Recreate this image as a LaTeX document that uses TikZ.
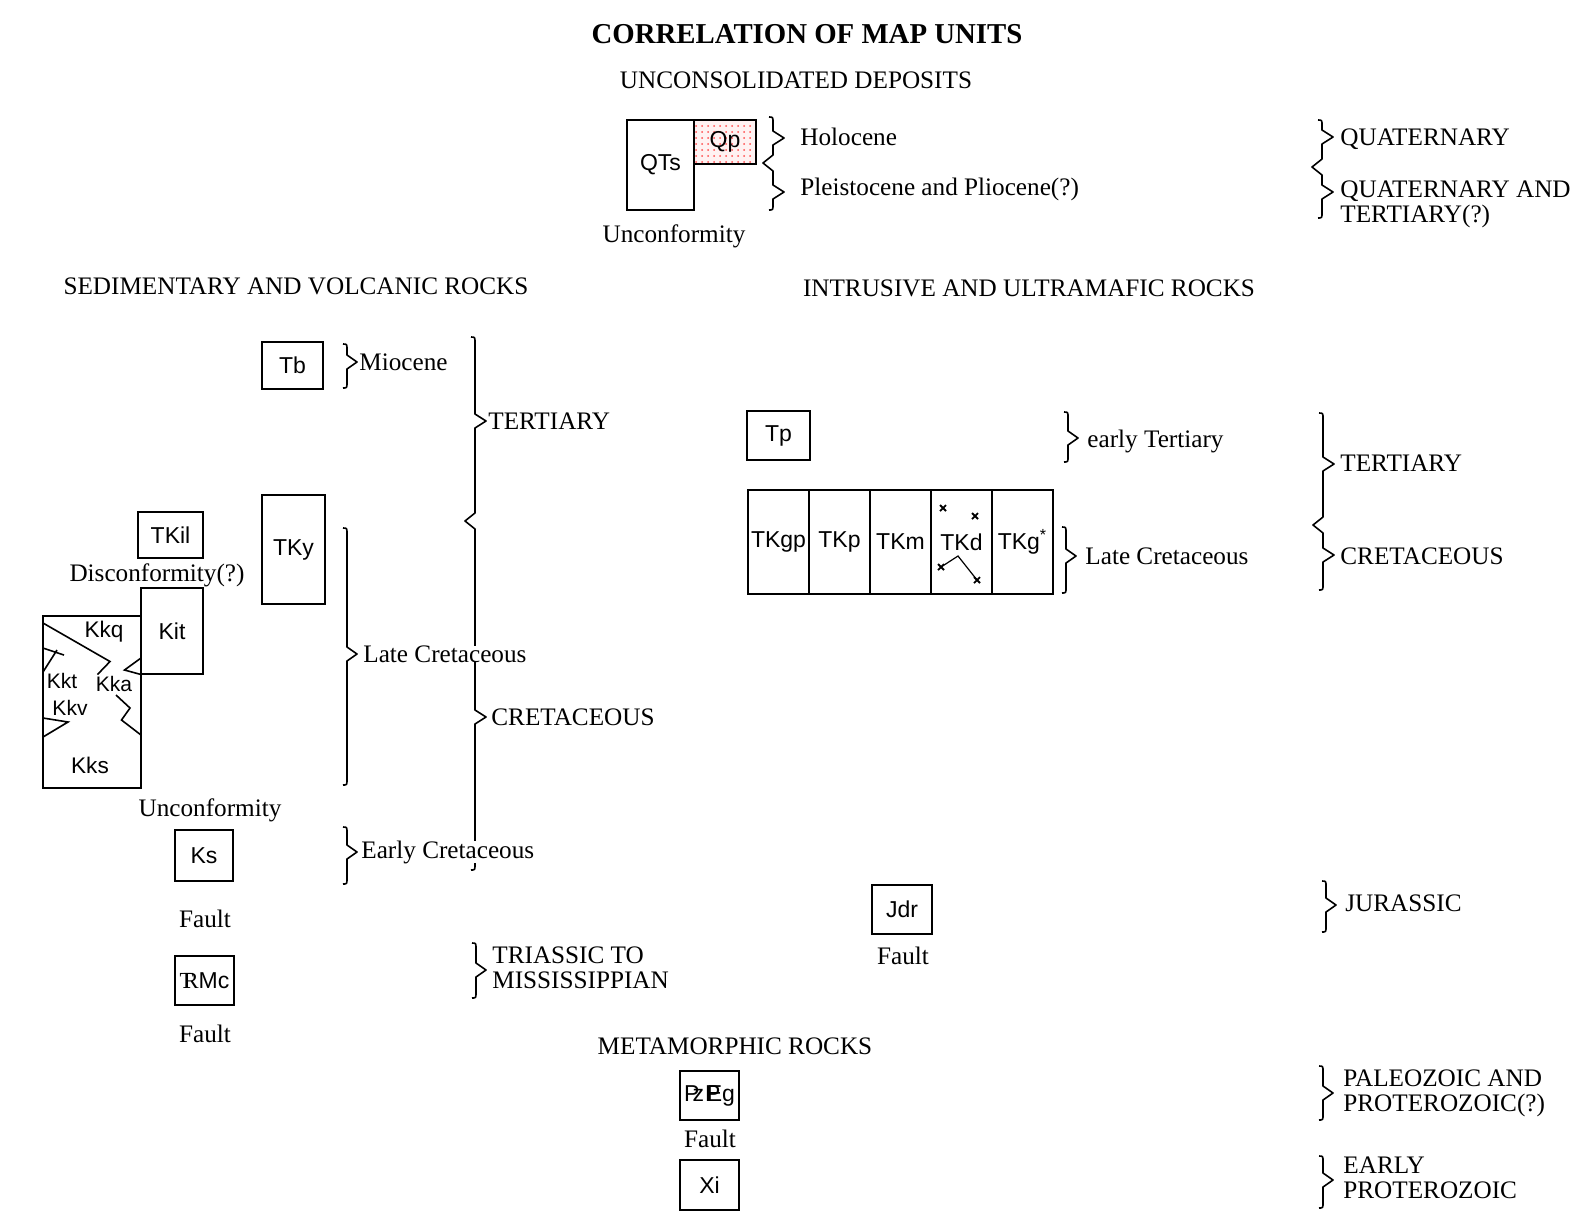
\documentclass[tikz,border=0pt]{standalone}
\usepackage{fontspec}
\setmainfont{Liberation Serif}
\setsansfont{Liberation Sans}
\usetikzlibrary{positioning,patterns}

% one brace: spine x, top, tip, bottom
\newcommand{\brc}[4]{%
  \draw[brc] (#1-4,#2) .. controls (#1,#2) .. (#1,#2+6) -- (#1,#3-7) -- (#1+10,#3)
    -- (#1,#3+7) -- (#1,#4-6) .. controls (#1,#4) .. (#1-4,#4);}
% double brace: spine x, top, tip, cusp, tip, bottom
\newcommand{\dbrc}[6]{%
  \draw[brc] (#1-4,#2) .. controls (#1,#2) .. (#1,#2+6) -- (#1,#3-7) -- (#1+11,#3)
    -- (#1,#3+7) -- (#1,#4-8) -- (#1-10,#4) -- (#1,#4+8) -- (#1,#5-7) -- (#1+11,#5)
    -- (#1,#5+7) -- (#1,#6-6) .. controls (#1,#6) .. (#1-4,#6);}

\begin{document}
\begin{tikzpicture}[x=0.5pt,y=-0.5pt,
  unitbox/.style={draw,line width=1pt,inner sep=0pt,font=\sffamily\fontsize{11.5}{12}\selectfont},
  tkcell/.style={minimum width=30.5pt,minimum height=52pt,outer sep=0pt},
  txt/.style={inner sep=0pt,font=\fontsize{12.6}{12.6}\selectfont},
  brc/.style={line width=0.8pt,line join=round}]
\useasboundingbox (0,0) rectangle (1578,1212);

% braces
\dbrc{773}{117}{138}{163}{192}{210}
\dbrc{1322}{120}{137}{167}{192}{218}
\brc{347}{344}{362}{388}
\dbrc{475}{337}{421}{521}{717}{870}
\brc{347}{528}{654}{785}
\brc{347}{827}{852}{884}
\brc{476}{943}{970}{998}
\brc{1068}{412}{438}{462}
\brc{1066}{527}{556}{593}
\dbrc{1323}{413}{464}{525}{555}{590}
\brc{1326}{881}{905}{932}
\brc{1323}{1066}{1093}{1120}
\brc{1323}{1156}{1180}{1208}

% titles
\node[txt,font=\bfseries\fontsize{14.4}{14.4}\selectfont] (title) at (807,34) {CORRELATION OF MAP UNITS};
\node[txt] (uncons) at (796,80) {UNCONSOLIDATED DEPOSITS};
\node[txt] (sedvol) at (296,286) {SEDIMENTARY AND VOLCANIC ROCKS};
\node[txt] (intrus) at (1029,288) {INTRUSIVE AND ULTRAMAFIC ROCKS};
\node[txt] (metam) at (735,1046) {METAMORPHIC ROCKS};

% unconsolidated deposits
\node[unitbox,minimum width=33.5pt,minimum height=45pt] (qts) at (660.5,165) {QTs};
\node[unitbox,minimum width=31pt,minimum height=22pt,preaction={fill=red!5},
  pattern=dots,pattern color=red!70] (qp) at (725,142) {Qp};
\node[txt] (unc1) at (674,236) {Unconformity};
\node[txt,anchor=west] (holo) at (800,137) {Holocene};
\node[txt,anchor=west] (pleis) at (800,189) {Pleistocene and Pliocene(?)};
\node[txt,anchor=west] (quat) at (1340,139) {QUATERNARY};
\node[txt,anchor=west,align=left] (quatter) at (1340,204) {QUATERNARY AND\\TERTIARY(?)};

% sedimentary and volcanic rocks
\node[unitbox,minimum width=30.5pt,minimum height=23.5pt] (tb) at (292.5,365.5) {Tb};
\node[txt,anchor=west] (mioc) at (359,362) {Miocene};
\node[txt,anchor=west] (tert1) at (488,421) {TERTIARY};
\node[unitbox,minimum width=32.5pt,minimum height=23pt] (tkil) at (170.5,535) {TKil};
\node[unitbox,minimum width=31.5pt,minimum height=54.5pt] (tky) at (293.5,549.5) {TKy};
\node[txt] (disc) at (157,575) {Disconformity(?)};
\node[unitbox,minimum width=49pt,minimum height=86pt] (kk) at (92,702) {};
\node[unitbox,minimum width=31pt,minimum height=43pt] (kit) at (172,631) {Kit};
\draw[line width=0.8pt] (43,623) -- (110,661.5) -- (97.5,674.5);
\draw[line width=0.8pt] (141,658) -- (124.5,670) -- (141,674.5);
\draw[line width=0.8pt] (116,695) -- (130,708) -- (121.5,720) -- (141,735);
\draw[line width=0.8pt] (43,648) -- (64,655) (43,672) -- (57,650);
\draw[line width=0.8pt] (43,718) -- (68,722) -- (43,737);
\node[font=\sffamily\fontsize{11.3}{12}\selectfont,inner sep=0pt] (kkq) at (104,632) {Kkq};
\node[font=\sffamily\fontsize{10.5}{12}\selectfont,inner sep=0pt] (kkt) at (62,681) {Kkt};
\node[font=\sffamily\fontsize{10.5}{12}\selectfont,inner sep=0pt] (kka) at (114,684) {Kka};
\node[font=\sffamily\fontsize{10.5}{12}\selectfont,inner sep=0pt] (kkv) at (70,708) {Kkv};
\node[font=\sffamily\fontsize{11.3}{12}\selectfont,inner sep=0pt] (kks) at (90,765) {Kks};
\node[txt,anchor=west,fill=white] (latecr1) at (363,654) {Late Cretaceous};
\node[txt,anchor=west] (cret1) at (491,717) {CRETACEOUS};
\node[txt] (unc2) at (210,810) {Unconformity};
\node[unitbox,minimum width=29pt,minimum height=25.5pt] (ks) at (204,855.5) {Ks};
\node[txt,anchor=west,fill=white] (earlycr) at (361,852) {Early Cretaceous};
\node[txt] (fault1) at (205,919) {Fault};
\node[unitbox,minimum width=29.5pt,minimum height=24.5pt] (trmc) at (204.5,980.5) {{\rmfamily T\kern-.45em R}Mc};
\node[txt] (fault2) at (205,1034) {Fault};
\node[txt,anchor=west,align=left] (trimis) at (492,968) {TRIASSIC TO\\MISSISSIPPIAN};

% intrusive and ultramafic rocks
\node[unitbox,minimum width=31.5pt,minimum height=24.5pt] (tp) at (778.5,435.5) {Tp};
\node[txt,anchor=west] (earlyter) at (1087,441) {early Tertiary};
\node[unitbox,tkcell] (tkgp) at (778.5,542) {TKgp};
\node[unitbox,tkcell,right=0pt of tkgp] (tkp) {TKp};
\node[unitbox,tkcell,right=0pt of tkp] (tkm) {TKm};
\node[unitbox,tkcell,right=0pt of tkm] (tkd) {TKd};
\node[unitbox,tkcell,right=0pt of tkd] (tkg) {TKg\textsuperscript{*}};
\foreach \p in {(943,508),(975,516),(941,567),(977,580)}
  \draw[line width=0.9pt] \p ++(-3,-3) -- ++(6,6) \p ++(-3,3) -- ++(6,-6);
\draw[line width=0.6pt] (941,567) -- (958,556) -- (977,580);
\node[txt,anchor=west] (latecr2) at (1085,556) {Late Cretaceous};
\node[txt,anchor=west] (tert2) at (1340,463) {TERTIARY};
\node[txt,anchor=west] (cret2) at (1340,556) {CRETACEOUS};
\node[unitbox,minimum width=30pt,minimum height=24.5pt] (jdr) at (902,909.5) {Jdr};
\node[txt] (fault3) at (903,956) {Fault};
\node[txt,anchor=west] (jur) at (1345,903) {JURASSIC};

% metamorphic rocks
\node[unitbox,minimum width=29.5pt,minimum height=24.5pt] (pzpg) at (709.5,1095.5) {P\kern-.3em z\kern.05em P\kern-.6em Eg};
\node[txt] (fault4) at (710,1139) {Fault};
\node[unitbox,minimum width=29.5pt,minimum height=25pt] (xi) at (709.5,1185) {Xi};
\node[txt,anchor=west,align=left] (paleo) at (1343,1093) {PALEOZOIC AND\\PROTEROZOIC(?)};
\node[txt,anchor=west,align=left] (eprot) at (1343,1178) {EARLY\\PROTEROZOIC};
\end{tikzpicture}
\end{document}
